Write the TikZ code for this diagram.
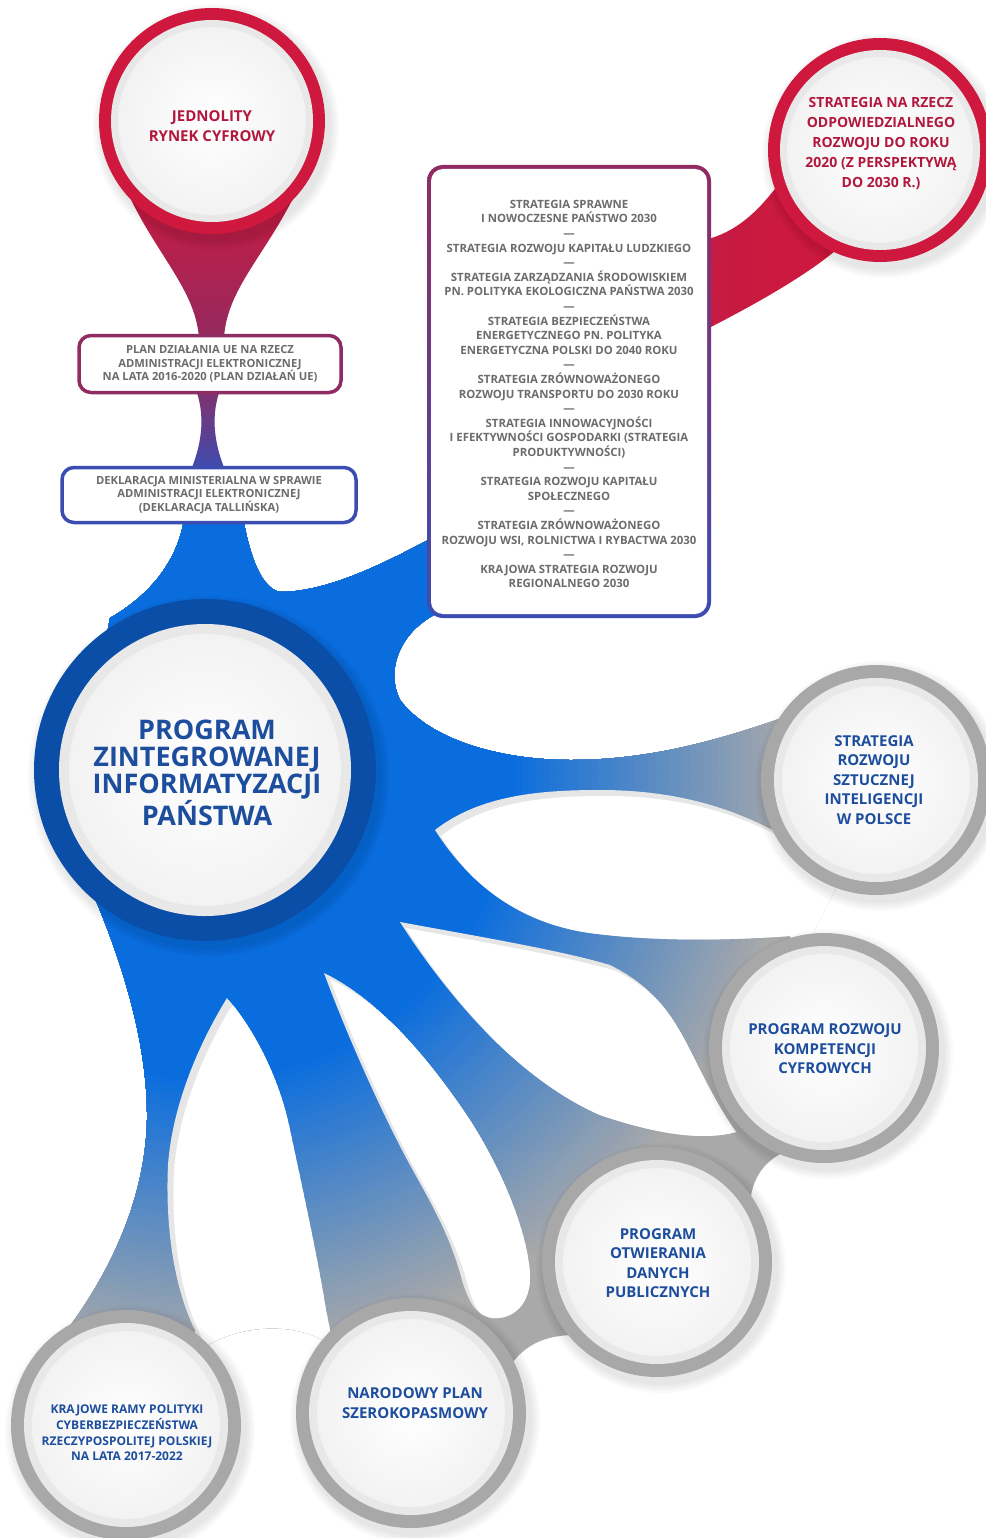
\documentclass[tikz,border=0pt]{standalone}
\usepackage{fontspec}
\setmainfont{Open Sans}
\usetikzlibrary{calc}
\definecolor{bblue}{HTML}{0A6DDE}
\definecolor{bgrey}{HTML}{A9A9A9}
\definecolor{ringblue}{HTML}{0B4EA8}
\definecolor{ringgrey}{HTML}{A8A8A8}
\definecolor{ringred}{HTML}{CF183D}
\definecolor{band}{HTML}{E8E8E8}
\definecolor{tgrey}{HTML}{6C6C6C}
\definecolor{tblue}{HTML}{1D4E9E}
\definecolor{tred}{HTML}{B2173D}
\definecolor{purp}{HTML}{8E2C63}
\definecolor{indigo}{HTML}{3C4DB2}
\definecolor{petalshadow}{HTML}{E6E6E6}
\tikzset{
  listtext/.style={text=tgrey, font=\fontsize{11.4}{14.6}\selectfont\bfseries, align=center, inner sep=0pt},
  boxtext/.style={text=tgrey, font=\fontsize{11.2}{13.6}\selectfont\bfseries, align=center},
  bluetext/.style={text=tblue, font=\fontsize{15}{19.5}\selectfont\bfseries, align=center, inner sep=0pt},
  redtext/.style={text=tred, font=\fontsize{15}{19.5}\selectfont\bfseries, align=center, inner sep=0pt},
  shadowdisc/.style={fill=black, opacity=0.02},
}
% outline of the blue-grey branch network
\def\blobpath{(185,512) .. controls (180,560) and (150,595) .. (110,618) -- (95,700) -- (78,860) .. controls (120,950) and (148,1040) .. (147,1120) .. controls (145,1210) and (100,1290) .. (55,1345) -- (90,1420) -- (200,1350) .. controls (240,1322) and (300,1322) .. (330,1345) -- (505,1375) .. controls (520,1345) and (545,1335) .. (575,1335) -- (750,1215) .. controls (748,1180) and (765,1158) .. (790,1150) -- (800,960) -- (840,880) -- (790,715) .. controls (720,740) and (650,760) .. (571,760) .. controls (500,760) and (430,740) .. (400,700) .. controls (385,670) and (400,630) .. (440,612) -- (440,540) -- (432,538) .. controls (390,560) and (330,592) .. (280,592) .. controls (262,588) and (250,560) .. (242,512) -- cycle}
% white gaps between branches
\def\peA{(435,830) .. controls (480,795) and (540,790) .. (600,790) .. controls (680,790) and (740,810) .. (790,840) -- (900,890) -- (900,962) -- (806,962) -- (790,936) .. controls (720,941) and (650,941) .. (590,933) .. controls (520,923) and (470,885) .. (435,830) -- cycle}
\def\peB{(400,922) .. controls (470,935) and (560,950) .. (610,965) .. controls (650,985) and (670,1010) .. (690,1050) .. controls (705,1080) and (720,1110) .. (736,1132) .. controls (700,1142) and (650,1132) .. (600,1115) .. controls (520,1080) and (450,1000) .. (400,922) -- cycle}
\def\peC{(324,973) .. controls (380,1000) and (430,1060) .. (470,1120) .. controls (505,1175) and (528,1235) .. (530,1275) .. controls (531,1305) and (512,1320) .. (492,1318) .. controls (475,1315) and (468,1300) .. (462,1280) .. controls (450,1235) and (432,1205) .. (410,1165) .. controls (380,1110) and (345,1030) .. (324,973) -- cycle}
\def\peD{(227,998) .. controls (255,1030) and (280,1080) .. (290,1130) .. controls (305,1200) and (318,1260) .. (326,1310) -- (340,1380) -- (200,1390) -- (195,1330) .. controls (175,1290) and (165,1230) .. (168,1165) .. controls (172,1110) and (195,1050) .. (227,998) -- cycle}
\begin{document}
\begin{tikzpicture}[x=1pt,y=-1pt]
\useasboundingbox (0,0) rectangle (985,1538);
\fill[white] (0,0) rectangle (985,1538);
% centres
\coordinate (jrc) at (212,121);
\coordinate (sor) at (880,150);
\coordinate (piz) at (205,770);
\coordinate (sai) at (876,780);
\coordinate (prk) at (824,1048);
\coordinate (pod) at (657,1262);
\coordinate (nps) at (411,1413);
\coordinate (krp) at (126,1425);
% red tails
\shade[top color=ringred, bottom color=purp!90!ringred] (120,175) .. controls (150,250) and (195,285) .. (199,338) -- (224,338) .. controls (227,285) and (272,250) .. (304,175) -- cycle;
\shade[left color=ringred!85!purp, right color=ringred] (778,185) .. controls (755,215) and (735,232) .. (705,240) -- (705,330) .. controls (760,302) and (812,272) .. (842,245) -- cycle;
% neck between boxes
\shade[top color=purp!85!indigo, bottom color=indigo] (196,390) .. controls (204,412) and (204,440) .. (190,472) -- (226,472) .. controls (212,440) and (212,412) .. (220,390) -- cycle;
% blob: blue at the centre fading to grey towards the outer circles
\begin{scope}
\clip \blobpath;
\fill[bgrey] (0,0) rectangle (985,1538);
\foreach \i in {0,...,40}{
  \pgfmathsetmacro{\rr}{590-7*\i}
  \pgfmathsetmacro{\pc}{(\rr-310)/2.8}
  \fill[bgrey!\pc!bblue] (piz) circle (\rr);
}
\foreach \pp in {\peA,\peB,\peC,\peD}{
  \begin{scope}
  \clip \pp;
  \fill[petalshadow] \pp;
  \fill[white, shift={(6,6)}] \pp;
  \end{scope}
}
\end{scope}
% soft shadows
\foreach \p/\r in {sai/115,prk/115,pod/115,nps/115,krp/115,jrc/113,sor/112,piz/171}{
  \foreach \k in {1,...,5}{
    \fill[shadowdisc] ($(\p)+(4,6)$) circle (\r+\k*2);
  }
}
% red circles
\foreach \p/\r in {jrc/113,sor/112}{
  \fill[ringred] (\p) circle (\r);
  \fill[band] (\p) circle (\r-12);
  \shade[inner color=white, outer color=white!95!black] (\p) circle (\r-19);
}
% central circle
\fill[ringblue] (piz) circle (171);
\fill[band] (piz) circle (146);
\shade[inner color=white, outer color=white!95!black] (piz) circle (136);
% grey circles
\foreach \p in {sai,prk,pod,nps,krp}{
  \fill[ringgrey] (\p) circle (115);
  \fill[band] (\p) circle (102);
  \shade[inner color=white, outer color=white!95!black] (\p) circle (94);
}
% list box
\shade[top color=purp!95!ringred, middle color=purp!60!indigo, bottom color=indigo, rounded corners=16pt] (427,165) rectangle (711,618);
\fill[white, rounded corners=12pt] (431,169) rectangle (707,614);
\node[listtext] (lst) at (569,394) {STRATEGIA SPRAWNE\\I NOWOCZESNE PAŃSTWO 2030\\—\\STRATEGIA ROZWOJU KAPITAŁU LUDZKIEGO\\—\\STRATEGIA ZARZĄDZANIA ŚRODOWISKIEM\\PN. POLITYKA EKOLOGICZNA PAŃSTWA 2030\\—\\STRATEGIA BEZPIECZEŃSTWA\\ENERGETYCZNEGO PN. POLITYKA\\ENERGETYCZNA POLSKI DO 2040 ROKU\\—\\STRATEGIA ZRÓWNOWAŻONEGO\\ROZWOJU TRANSPORTU DO 2030 ROKU\\—\\STRATEGIA INNOWACYJNOŚCI\\I EFEKTYWNOŚCI GOSPODARKI (STRATEGIA\\PRODUKTYWNOŚCI)\\—\\STRATEGIA ROZWOJU KAPITAŁU\\SPOŁECZNEGO\\—\\STRATEGIA ZRÓWNOWAŻONEGO\\ROZWOJU WSI, ROLNICTWA I RYBACTWA 2030\\—\\KRAJOWA STRATEGIA ROZWOJU\\REGIONALNEGO 2030};
% small boxes
\node[boxtext, draw=purp, line width=3.5pt, rounded corners=12pt, fill=white, minimum width=262pt, minimum height=57pt] (plan) at (210,364) {PLAN DZIAŁANIA UE NA RZECZ\\ADMINISTRACJI ELEKTRONICZNEJ\\NA LATA 2016-2020 (PLAN DZIAŁAŃ UE)};
\node[boxtext, draw=indigo, line width=3.5pt, rounded corners=12pt, fill=white, minimum width=294pt, minimum height=55pt] (dekl) at (209,495) {DEKLARACJA MINISTERIALNA W SPRAWIE\\ADMINISTRACJI ELEKTRONICZNEJ\\(DEKLARACJA TALLIŃSKA)};
% circle texts
\node[redtext] (jrct) at (212,126) {JEDNOLITY\\RYNEK CYFROWY};
\node[redtext, font=\fontsize{14}{20}\selectfont\bfseries] (sort) at (881,144) {STRATEGIA NA RZECZ\\ODPOWIEDZIALNEGO\\ROZWOJU DO ROKU\\2020 (Z PERSPEKTYWĄ\\DO 2030 R.)};
\node[bluetext, font=\fontsize{27}{27}\selectfont\bfseries] (pizt) at (207,773) {PROGRAM\\ZINTEGROWANEJ\\INFORMATYZACJI\\PAŃSTWA};
\node[bluetext] (sait) at (874,780) {STRATEGIA\\ROZWOJU\\SZTUCZNEJ\\INTELIGENCJI\\W POLSCE};
\node[bluetext] (prkt) at (825,1049) {PROGRAM ROZWOJU\\KOMPETENCJI\\CYFROWYCH};
\node[bluetext] (podt) at (658,1263) {PROGRAM\\OTWIERANIA\\DANYCH\\PUBLICZNYCH};
\node[bluetext] (npst) at (415,1403) {NARODOWY PLAN\\SZEROKOPASMOWY};
\node[bluetext, font=\fontsize{12}{15.7}\selectfont\bfseries] (krpt) at (127,1433) {KRAJOWE RAMY POLITYKI\\CYBERBEZPIECZEŃSTWA\\RZECZYPOSPOLITEJ POLSKIEJ\\NA LATA 2017-2022};
\end{tikzpicture}
\end{document}
